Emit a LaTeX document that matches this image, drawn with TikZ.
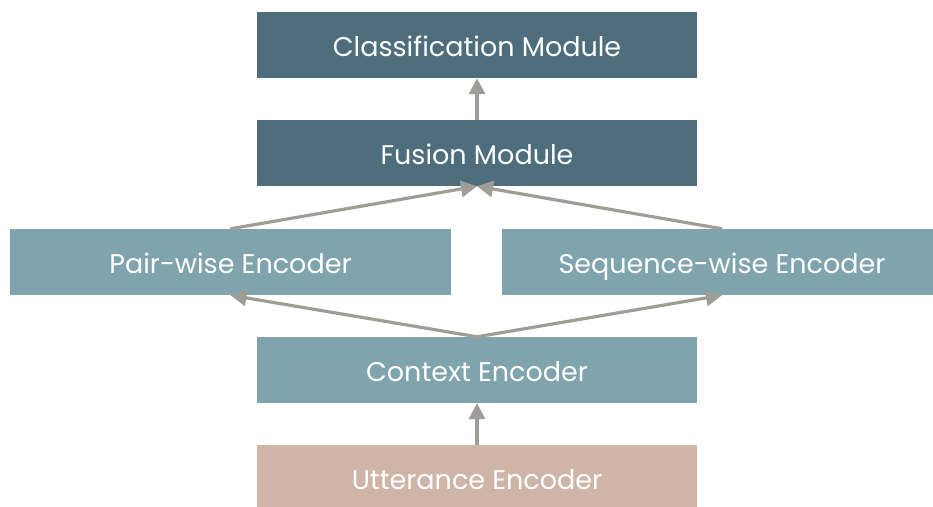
\documentclass[tikz,border=0pt]{standalone}
\usepackage{fontspec}
\setmainfont{Poppins}
\usetikzlibrary{arrows.meta}
\definecolor{darkteal}{HTML}{4E6E7E}
\definecolor{lightteal}{HTML}{7FA4AD}
\definecolor{sand}{HTML}{CFB5A7}
\definecolor{arrowgray}{HTML}{9E9E96}
\tikzset{
  block/.style={rectangle, inner sep=0pt, text=white,
    font=\fontsize{27}{31}\selectfont, text height=22pt, text depth=0pt},
  link/.style={draw=arrowgray, line width=3.2pt, -{Triangle[length=16pt,width=16pt]}},
}
\begin{document}
\begin{tikzpicture}[x=1pt,y=-1pt]
  \useasboundingbox (0,0) rectangle (933,506);
  \fill[white] (0,0) rectangle (933,506);
  % boxes
  \node[block, fill=darkteal, minimum width=440pt, minimum height=66pt] (cls) at (477,45) {Classification Module};
  \node[block, fill=darkteal, minimum width=440pt, minimum height=66pt] (fus) at (477,153) {Fusion Module};
  \node[block, fill=lightteal, minimum width=441pt, minimum height=66pt] (pair) at (230.5,262) {Pair-wise Encoder};
  \node[block, fill=lightteal, minimum width=431pt, minimum height=66pt] (seq) at (717.5,262) {\hspace*{9pt}Sequence-wise Encoder};
  \node[block, fill=lightteal, minimum width=440pt, minimum height=66pt] (ctx) at (477,370) {Context Encoder};
  \node[block, fill=sand, minimum width=440pt, minimum height=66pt] (utt) at (477,478) {Utterance Encoder};
  % connectors
  \draw[link] (fus.north) -- (cls.south);
  \draw[link] (pair.north) -- (fus.south);
  \draw[link] ([xshift=4.5pt]seq.north) -- (fus.south);
  \draw[link] (ctx.north) -- (pair.south);
  \draw[link] (ctx.north) -- ([xshift=4.5pt]seq.south);
  \draw[link] (utt.north) -- (ctx.south);
\end{tikzpicture}
\end{document}
